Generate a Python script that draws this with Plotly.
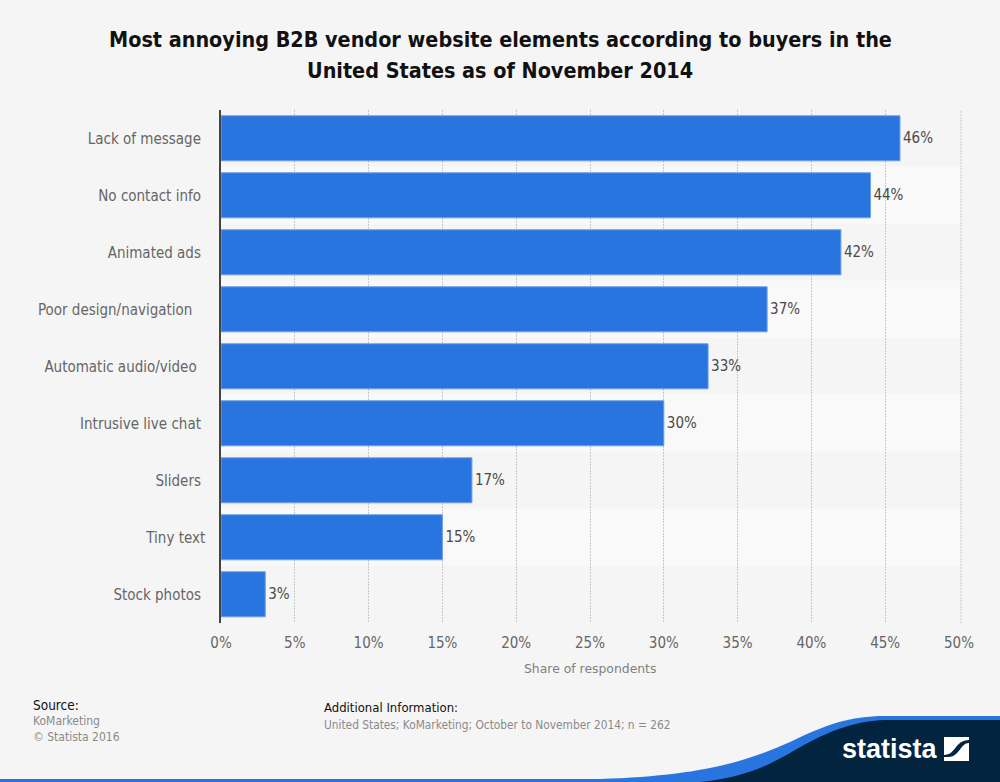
import plotly.graph_objects as go

# values, top to bottom
categories = ["Lack of message", "No contact info", "Animated ads", "Poor design/navigation",
              "Automatic audio/video", "Intrusive live chat", "Sliders", "Tiny text", "Stock photos"]
shares = [46, 44, 42, 37, 33, 30, 17, 15, 3]
# the original labels carry trailing blanks, so they do not line up
label_padding = [1, 1, 1, 3, 2, 1, 1, 0, 1]
x_ticks = [0, 5, 10, 15, 20, 25, 30, 35, 40, 45, 50]

title_lines = ["Most annoying B2B vendor website elements according to buyers in the",
               "United States as of November 2014"]
source_lines = ["KoMarketing", "© Statista 2016"]
info_line = "United States; KoMarketing; October to November 2014; n = 262"

W = 1000
H = 782
BG = "#f5f5f5"
STRIPE = "#f9f9f9"
BLUE = "#2875df"
NAVY = "#02243f"
GRID = "#c8c8c8"
FONT = "DejaVu Sans Condensed"


def px(x):
    return x / W


def py(y):
    return 1 - y / H


def pt(x, y):
    return f"{px(x):.4f},{py(y):.4f}"


def label(text, x, y, size, color, anchor="left", family=FONT):
    return dict(text=text, x=px(x), y=py(y), xref="paper", yref="paper", showarrow=False,
                xanchor=anchor, yanchor="middle", borderpad=0,
                font=dict(family=family, size=size, color=color))


fig = go.Figure()

tick_text = [c + "\u00a0" * n for c, n in zip(categories, label_padding)]

fig.add_trace(go.Bar(
    y=categories,
    x=shares,
    orientation="h",
    width=0.79,
    marker=dict(color=BLUE, line=dict(color="#6d9fe8", width=1)),
    text=[f"{v}%" for v in shares],
    textposition="outside",
    textfont=dict(family=FONT, size=15, color="#4a4a4a"),
    cliponaxis=False,
    showlegend=False,
))

shapes = []
# lighter band behind every second row
for i in range(1, len(categories), 2):
    shapes.append(dict(type="rect", xref="paper", yref="y", x0=px(221), x1=px(961), y0=i - 0.5, y1=i + 0.5,
                       fillcolor=STRIPE, line_width=0, layer="below"))

# closing dotted line at the right end of the plot
shapes.append(dict(type="line", xref="paper", yref="paper", x0=px(961), x1=px(961), y0=py(623), y1=py(110),
                   line=dict(color=GRID, width=1, dash="2px,1px"), layer="below"))

# footer swoosh, blue underneath and navy on top
blue_path = ("M " + pt(0, 779) + " L " + pt(600, 779) + " C " + pt(690, 776) + " " + pt(740, 765) + " " + pt(790, 742)
             + " C " + pt(825, 725) + " " + pt(850, 716) + " " + pt(885, 716)
             + " L " + pt(1000, 716) + " L " + pt(1000, 782) + " L " + pt(0, 782) + " Z")
navy_path = ("M " + pt(700, 782) + " C " + pt(740, 778) + " " + pt(765, 768) + " " + pt(795, 750)
             + " C " + pt(830, 730) + " " + pt(855, 721) + " " + pt(885, 720)
             + " L " + pt(1000, 720) + " L " + pt(1000, 782) + " Z")
shapes.append(dict(type="path", xref="paper", yref="paper", path=blue_path, fillcolor=BLUE, line_width=0))
shapes.append(dict(type="path", xref="paper", yref="paper", path=navy_path, fillcolor=NAVY, line_width=0))

# logo square
shapes.append(dict(type="rect", xref="paper", yref="paper", x0=px(944), x1=px(969), y0=py(761), y1=py(737),
                   fillcolor="white", line_width=0))
logo_s = ("M " + pt(944, 755) + " C " + pt(956, 755) + " " + pt(955, 740) + " " + pt(969, 740)
          + " L " + pt(969, 743) + " C " + pt(960, 743) + " " + pt(960, 757) + " " + pt(948, 757)
          + " L " + pt(944, 757) + " Z")
shapes.append(dict(type="path", xref="paper", yref="paper", path=logo_s, fillcolor=NAVY, line_width=0))

annotations = [
    label(f"<b>{title_lines[0]}</b>", 500, 39.5, 21.4, "#111111", "center"),
    label(f"<b>{title_lines[1]}</b>", 500, 71, 21.4, "#111111", "center"),
    label("Share of respondents", 590, 668, 12.4, "#7f7f7f", "center", "DejaVu Sans"),
    label("Source:", 32, 705, 13.5, "#111111"),
    label(source_lines[0], 32, 721, 12, "#8a8a8a"),
    label(source_lines[1], 32, 737, 12, "#8a8a8a"),
    label("Additional Information:", 323, 707, 13, "#111111"),
    label(info_line, 323, 725, 11.8, "#8a8a8a"),
    label("<b>statista</b>", 890, 749, 27, "white", "center", "Liberation Sans"),
]

fig.update_layout(
    width=W,
    height=H,
    autosize=False,
    margin=dict(l=0, r=0, t=0, b=0, pad=0, autoexpand=False),
    paper_bgcolor=BG,
    plot_bgcolor=BG,
    shapes=shapes,
    annotations=annotations,
    xaxis=dict(
        domain=[px(221), px(959)],
        range=[0, 50],
        tickvals=x_ticks,
        ticktext=[f"{t}%" for t in x_ticks],
        ticks="",
        ticklabelstandoff=9,
        tickfont=dict(family=FONT, size=15, color="#666666"),
        showgrid=True,
        gridcolor=GRID,
        griddash="2px,1px",
        gridwidth=1,
        zeroline=False,
    ),
    yaxis=dict(
        domain=[py(622.8), py(109.8)],
        range=[len(categories) - 0.5, -0.5],
        tickmode="array",
        tickvals=categories,
        ticktext=tick_text,
        ticks="",
        ticklabelstandoff=11,
        tickfont=dict(family=FONT, size=15, color="#666666"),
        showgrid=False,
        showline=True,
        linecolor="#444444",
        linewidth=1.5,
        zeroline=False,
    ),
)

fig.write_html("out.html", config=dict(displayModeBar=False),
               post_script="document.body.style.margin='0';document.body.style.background='#f5f5f5';")
